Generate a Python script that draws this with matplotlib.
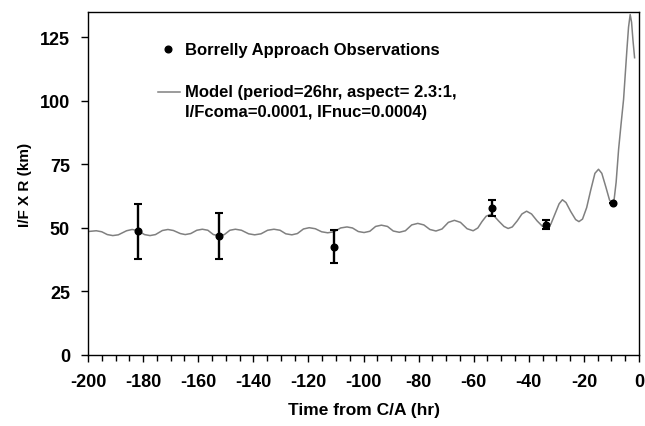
import matplotlib
matplotlib.use("Agg")
import matplotlib.pyplot as plt
from matplotlib.lines import Line2D
from matplotlib.ticker import MultipleLocator

plt.rcParams['font.family'] = ['Liberation Sans', 'DejaVu Sans']
plt.rcParams['font.weight'] = 'bold'
plt.rcParams['axes.unicode_minus'] = False

# Borrelly approach observations
obs_time = [-182.0, -152.5, -110.8, -53.5, -33.6, -9.6]
obs_val = [48.9, 46.9, 42.6, 57.8, 51.2, 59.7]
err_low = [11.0, 9.0, 6.4, 3.2, 1.7, 0.0]
err_high = [10.7, 8.9, 6.5, 3.4, 2.0, 0.0]

# model light curve
model_time = [-200.0, -197.0, -195.0, -193.0, -191.0, -189.0, -186.0, -184.0,
              -182.0, -179.5, -177.5, -175.5, -173.0, -171.0, -169.0, -166.5,
              -164.7, -162.7, -160.5, -158.5, -156.5, -154.5, -152.5, -150.5,
              -148.5, -146.5, -144.3, -141.7, -139.5, -137.2, -134.8, -132.5,
              -130.3, -128.2, -126.0, -124.0, -121.8, -119.7, -117.5, -115.2,
              -113.0, -110.7, -108.3, -106.0, -104.0, -101.9, -99.8, -97.7,
              -95.6, -93.5, -91.3, -89.2, -87.0, -84.8, -82.5, -80.3, -78.1,
              -75.9, -73.7, -71.5, -69.2, -67.0, -64.8, -62.4, -60.2, -58.5,
              -57.0, -55.5, -54.0, -52.5, -51.0, -49.0, -47.5, -46.0, -44.2,
              -42.5, -40.8, -39.0, -37.0, -35.0, -33.5, -32.0, -30.5, -29.0,
              -27.8, -26.5, -24.8, -23.0, -21.8, -20.5, -19.0, -17.5, -16.0,
              -14.7, -13.5, -12.0, -10.7, -9.6, -9.0, -8.3, -7.4, -6.5, -5.6,
              -4.4, -3.8, -3.2, -2.7, -2.2, -1.6]
model_val = [48.6, 48.9, 48.5, 47.4, 47.0, 47.3, 48.9, 49.4,
             49.0, 47.4, 47.0, 47.4, 49.0, 49.4, 49.0, 47.8,
             47.4, 47.8, 49.1, 49.5, 49.1, 47.4, 47.0, 47.4,
             49.1, 49.5, 49.1, 47.7, 47.3, 47.7, 49.1, 49.5,
             49.1, 47.7, 47.3, 47.8, 49.6, 50.1, 49.7, 48.5,
             48.1, 48.5, 50.0, 50.4, 50.0, 48.6, 48.2, 48.7,
             50.6, 51.1, 50.6, 48.8, 48.3, 48.9, 51.2, 51.8, 51.2,
             49.4, 48.8, 49.6, 52.2, 53.0, 52.2, 49.7, 48.9, 50.0,
             52.5, 54.6, 55.3, 54.6, 52.8, 50.6, 49.8, 50.4, 52.8,
             55.5, 56.6, 55.5, 52.8, 50.6, 50.2, 51.5, 55.5, 59.5,
             61.1, 60.0, 56.5, 53.3, 52.5, 53.5, 58.0, 65.0, 71.5,
             73.1, 71.5, 66.0, 61.0, 59.5, 61.5, 68.0, 81.0, 91.0, 100.6,
             120.0, 129.0, 134.0, 131.0, 124.0, 117.0]

legend_obs = "Borrelly Approach Observations"
legend_model = ["Model (period=26hr, aspect= 2.3:1,",
                "I/Fcoma=0.0001, IFnuc=0.0004)"]

fig = plt.figure(figsize=(6.45, 4.27), dpi=100)
ax = fig.add_axes([88 / 645, 1 - 356 / 427, 551 / 645, (356 - 13) / 427])

ax.plot(model_time, model_val, color='#808080', lw=1.1, zorder=2)
ax.errorbar(obs_time, obs_val, yerr=[err_low, err_high], fmt='o',
            color='black', ms=4.8, elinewidth=1.7, capsize=2.6,
            capthick=1.5, zorder=3)

ax.set_xlim(-200, 0)
ax.set_ylim(0, 135)
ax.xaxis.set_major_locator(MultipleLocator(20))
ax.xaxis.set_minor_locator(MultipleLocator(5))
ax.yaxis.set_major_locator(MultipleLocator(25))
ax.tick_params(axis='both', which='major', direction='out', length=5,
               width=1, labelsize=13, colors='black')
ax.tick_params(axis='x', which='minor', direction='out', length=4, width=1)
ax.tick_params(axis='x', which='major', pad=8)
ax.tick_params(axis='y', which='major', pad=8)
for lab in ax.get_xticklabels() + ax.get_yticklabels():
    lab.set_fontweight('bold')
for sp in ax.spines.values():
    sp.set_color('black')
    sp.set_linewidth(1)

ax.set_xlabel("Time from C/A (hr)", fontsize=12.5, fontweight='bold')
ax.set_ylabel("I/F X R (km)", fontsize=11, fontweight='bold')
ax.xaxis.set_label_coords(0.5, -0.137)
ax.yaxis.set_label_coords(-0.102, 0.5)

# hand-made legend, placed in figure pixels
def px(x, y):
    return x / 645, 1 - y / 427

fig.add_artist(Line2D(*zip(px(168, 50)), marker='o', color='black', ms=4.8,
                      transform=fig.transFigure))
fig.text(*px(185, 50), legend_obs, fontsize=12, fontweight='bold',
         va='center', ha='left')
x0, y0 = px(158, 93)
x1, _ = px(180, 93)
fig.add_artist(Line2D([x0, x1], [y0, y0], color='#808080', lw=1.1,
                      transform=fig.transFigure))
fig.text(*px(185, 93), legend_model[0], fontsize=12, fontweight='bold',
         va='center', ha='left')
fig.text(*px(185, 112), legend_model[1], fontsize=12, fontweight='bold',
         va='center', ha='left')

fig.savefig("out.png", dpi=100)
